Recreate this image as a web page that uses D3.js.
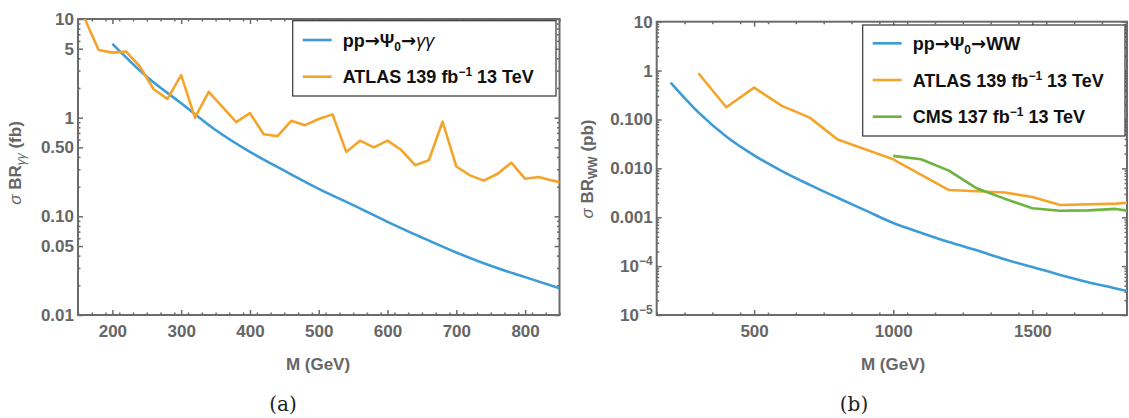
<!DOCTYPE html>
<html>
<head>
<meta charset="utf-8">
<script src="https://cdn.jsdelivr.net/npm/d3@7"></script>
<style>
  body { margin: 0; background: #fff; }
  svg { display: block; font-family: "Liberation Sans", Arial, sans-serif; }
  .tick text { fill: #666; font-weight: bold; font-size: 17px; font-family: "Liberation Sans", Arial, sans-serif; }
  .tick line { stroke: #6b6b6b; }
  .domain { display: none; }
</style>
</head>
<body>
<svg id="chart" width="1129" height="418"></svg>
<script>
// ---- data ----
// (a) diphoton
var ggMass = [200, 250, 300, 350, 400, 450, 500, 550, 600, 650, 700, 750, 800, 850];
var ggSigma = [5.6, 2.6, 1.4, 0.75, 0.45, 0.29, 0.19, 0.13, 0.088, 0.061, 0.043, 0.0315, 0.0242, 0.0187];
var atlasGGMass = [160, 180, 200, 220, 240, 260, 280, 300, 320, 340, 360, 380, 400, 420, 440, 460,
  480, 500, 520, 540, 560, 580, 600, 620, 640, 660, 680, 700, 720, 740, 760, 780, 800, 820, 840, 860];
var atlasGGLimit = [10, 4.85, 4.56, 4.67, 3.3, 1.94, 1.55, 2.7, 1.0, 1.83, 1.29, 0.9, 1.11, 0.68, 0.65, 0.93,
  0.84, 0.97, 1.08, 0.45, 0.585, 0.5, 0.585, 0.47, 0.33, 0.37, 0.91, 0.32, 0.26, 0.23, 0.27, 0.35, 0.24, 0.25, 0.23, 0.215];
// (b) WW
var wwMass = [200, 300, 400, 500, 600, 700, 800, 900, 1000, 1100, 1200, 1300, 1400, 1500, 1600, 1700, 1800, 1850];
var wwSigma = [0.57, 0.14, 0.045, 0.0185, 0.0088, 0.0046, 0.0025, 0.00138, 0.00076, 0.00048, 0.00031,
  0.00021, 0.000138, 0.0000955, 0.000066, 0.000047, 0.000035, 0.00003];
var atlasWWMass = [300, 400, 500, 600, 700, 800, 1000, 1200, 1400, 1500, 1600, 1800, 1900];
var atlasWWLimit = [0.88, 0.178, 0.447, 0.19, 0.109, 0.039, 0.0153, 0.0036, 0.0032, 0.0026, 0.00178, 0.0019, 0.0021];
var cmsWWMass = [1000, 1100, 1200, 1300, 1400, 1500, 1600, 1700, 1800, 1900];
var cmsWWLimit = [0.018, 0.0153, 0.009, 0.0039, 0.0024, 0.00153, 0.00136, 0.00138, 0.00148, 0.0012];

// ticks
var ggXTicks = [200, 300, 400, 500, 600, 700, 800];
var ggYTicks = [0.01, 0.05, 0.1, 0.5, 1, 5, 10];
var ggYLabels = ["0.01", "0.05", "0.10", "0.50", "1", "5", "10"];
var wwXTicks = [500, 1000, 1500];
var wwYTicks = [1e-5, 1e-4, 1e-3, 1e-2, 1e-1, 1, 10];
var wwYLabels = ["10^-5", "10^-4", "0.001", "0.010", "0.100", "1", "10"];

var blue = "#3d9bd6", orange = "#f5a42b", green = "#6cb33f";
var frameColor = "#6b6b6b";

var svg = d3.select("#chart");

function logMinors(lo, hi, majors) {
  var out = [];
  for (var e = Math.floor(Math.log10(lo)); e < Math.ceil(Math.log10(hi)); e++) {
    for (var m = 1; m < 10; m++) {
      var v = +(m * Math.pow(10, e)).toPrecision(3);
      if (v >= lo && v <= hi && majors.indexOf(v) < 0) out.push(v);
    }
  }
  return out;
}

// rich text: parts with sub / sup shifts in pixels
function richText(t, parts, small) {
  var shift = 0;
  parts.forEach(function(part) {
    var target = part.sub ? 4 : part.sup ? -7 : 0;
    var ts = t.append("tspan").text(part.t).attr("dy", target - shift);
    shift = target;
    if (part.sub || part.sup) ts.attr("font-size", small);
    if (part.it) ts.attr("font-style", "italic").attr("font-weight", "normal");
    if (part.arrow) ts.attr("font-family", "'DejaVu Sans', sans-serif");
  });
}

function panel(p) {
  var g = svg.append("g");
  var x = d3.scaleLinear().domain(p.xDomain).range([p.x0, p.x1]);
  var y = d3.scaleLog().domain(p.yDomain).range([p.y1, p.y0]);

  var clipId = "clip" + p.id;
  svg.append("clipPath").attr("id", clipId).append("rect")
    .attr("x", p.x0).attr("y", p.y0).attr("width", p.x1 - p.x0).attr("height", p.y1 - p.y0);

  var xMinor = d3.range(p.xDomain[0], p.xDomain[1] + 1, p.xMinorStep).filter(function(v) {
    return p.xTicks.indexOf(v) < 0;
  });
  var yMinor = logMinors(p.yDomain[0], p.yDomain[1], p.yTicks);

  // bottom + top ticks
  g.append("g").attr("transform", "translate(0," + p.y1 + ")")
    .call(d3.axisBottom(x).tickValues(p.xTicks).tickSizeInner(-5).tickSizeOuter(0).tickPadding(10)
      .tickFormat(d3.format("d")));
  g.append("g").attr("transform", "translate(0," + p.y1 + ")")
    .call(d3.axisBottom(x).tickValues(xMinor).tickSizeInner(-2.5).tickSizeOuter(0).tickFormat(""));
  g.append("g").attr("transform", "translate(0," + p.y0 + ")")
    .call(d3.axisTop(x).tickValues(p.xTicks).tickSizeInner(-5).tickSizeOuter(0).tickFormat(""));
  g.append("g").attr("transform", "translate(0," + p.y0 + ")")
    .call(d3.axisTop(x).tickValues(xMinor).tickSizeInner(-2.5).tickSizeOuter(0).tickFormat(""));

  // left + right ticks
  var yAxis = g.append("g").attr("transform", "translate(" + p.x0 + ",0)")
    .call(d3.axisLeft(y).tickValues(p.yTicks).tickSizeInner(-5).tickSizeOuter(0).tickPadding(4)
      .tickFormat(function(d, i) { return p.yLabels[i]; }));
  g.append("g").attr("transform", "translate(" + p.x0 + ",0)")
    .call(d3.axisLeft(y).tickValues(yMinor).tickSizeInner(-2.5).tickSizeOuter(0).tickFormat(""));
  g.append("g").attr("transform", "translate(" + p.x1 + ",0)")
    .call(d3.axisRight(y).tickValues(p.yTicks).tickSizeInner(-5).tickSizeOuter(0).tickFormat(""));
  g.append("g").attr("transform", "translate(" + p.x1 + ",0)")
    .call(d3.axisRight(y).tickValues(yMinor).tickSizeInner(-2.5).tickSizeOuter(0).tickFormat(""));

  g.selectAll(".tick line").attr("stroke-width", 1.5);

  // power-of-ten labels
  yAxis.selectAll(".tick text").each(function() {
    var t = d3.select(this), s = t.text();
    if (s.indexOf("^") < 0) return;
    var parts = s.split("^");
    t.text(parts[0]);
    t.append("tspan").attr("dy", "-7").style("font-size", "12px")
      .text(parts[1].replace("-", "\u2212"));
  });

  // frame
  g.append("rect").attr("x", p.x0).attr("y", p.y0)
    .attr("width", p.x1 - p.x0).attr("height", p.y1 - p.y0)
    .attr("fill", "none").attr("stroke", frameColor).attr("stroke-width", 2);

  // curves: theory curves smooth, limits straight segments
  var curves = g.append("g").attr("clip-path", "url(#" + clipId + ")");
  p.series.forEach(function(s) {
    var line = d3.line().x(function(d) { return x(d[0]); }).y(function(d) { return y(d[1]); })
      .curve(s.smooth ? d3.curveMonotoneX : d3.curveLinear);
    curves.append("path").datum(d3.zip(s.m, s.v)).attr("d", line)
      .attr("fill", "none").attr("stroke", s.color).attr("stroke-width", 2.6)
      .attr("stroke-linejoin", "round");
  });

  // axis titles
  g.append("text").attr("x", p.xTitleX).attr("y", 370).attr("text-anchor", "middle")
    .attr("fill", "#666").attr("font-weight", "bold").attr("font-size", 17).text("M (GeV)");

  var yt = g.append("text").attr("transform", "translate(" + p.yTitleX + "," + p.yTitleY + ") rotate(-90)")
    .attr("text-anchor", "middle").attr("y", 6)
    .attr("fill", "#666").attr("font-weight", "bold").attr("font-size", 17);
  richText(yt, [
    { t: "\u03c3 ", it: true },
    { t: "BR" },
    { t: p.sub, sub: true, it: p.subItalic },
    { t: " " + p.unit }
  ], 12);

  // legend
  var lg = g.append("g");
  lg.append("rect").attr("x", p.legend[0]).attr("y", p.legend[1])
    .attr("width", p.legend[2] - p.legend[0]).attr("height", p.legend[3] - p.legend[1])
    .attr("fill", "#fff").attr("stroke", "#333").attr("stroke-width", 1.2);
  p.series.forEach(function(s, i) {
    var ry = p.legendRows[i];
    lg.append("line").attr("x1", p.legend[0] + 10).attr("x2", p.legend[0] + 39)
      .attr("y1", ry).attr("y2", ry).attr("stroke", s.color).attr("stroke-width", 2.6);
    var t = lg.append("text").attr("x", p.legend[0] + 50).attr("y", ry + 6.5)
      .attr("font-weight", "bold").attr("font-size", 18).attr("fill", "#111");
    richText(t, s.label, 12);
  });

  // caption
  svg.append("text").attr("x", p.captionX).attr("y", 411).attr("text-anchor", "middle")
    .attr("font-family", "'DejaVu Serif', 'Liberation Serif', serif").attr("font-size", 20)
    .attr("fill", "#222").text(p.caption);
}

panel({
  id: "a", x0: 78, x1: 559.5, y0: 19, y1: 315,
  xDomain: [150, 850], yDomain: [0.01, 10],
  xTicks: ggXTicks, xMinorStep: 20, yTicks: ggYTicks, yLabels: ggYLabels,
  xTitleX: 318, yTitleX: 15, yTitleY: 163, sub: "\u03b3\u03b3", subItalic: true, unit: "(fb)",
  legend: [292.7, 20.7, 556, 96], legendRows: [40, 76.7],
  caption: "(a)", captionX: 283,
  series: [
    { m: ggMass, v: ggSigma, color: blue, smooth: true,
      label: [{ t: "pp" }, { t: "\u2192", arrow: true }, { t: "\u03a8" }, { t: "0", sub: true },
        { t: "\u2192", arrow: true }, { t: "\u03b3\u03b3", it: true }] },
    { m: atlasGGMass, v: atlasGGLimit, color: orange,
      label: [{ t: "ATLAS 139 fb" }, { t: "\u22121", sup: true }, { t: " 13 TeV" }] }
  ]
});

panel({
  id: "b", x0: 656.7, x1: 1127, y0: 21.7, y1: 315,
  xDomain: [150, 1840], yDomain: [1e-5, 10],
  xTicks: wwXTicks, xMinorStep: 100, yTicks: wwYTicks, yLabels: wwYLabels,
  xTitleX: 893, yTitleX: 587, yTitleY: 169, sub: "WW", subItalic: false, unit: "(pb)",
  legend: [862.7, 25, 1125, 136], legendRows: [43.3, 80, 116.7],
  caption: "(b)", captionX: 854,
  series: [
    { m: wwMass, v: wwSigma, color: blue, smooth: true,
      label: [{ t: "pp" }, { t: "\u2192", arrow: true }, { t: "\u03a8" }, { t: "0", sub: true },
        { t: "\u2192", arrow: true }, { t: "WW" }] },
    { m: atlasWWMass, v: atlasWWLimit, color: orange,
      label: [{ t: "ATLAS 139 fb" }, { t: "\u22121", sup: true }, { t: " 13 TeV" }] },
    { m: cmsWWMass, v: cmsWWLimit, color: green,
      label: [{ t: "CMS 137 fb" }, { t: "\u22121", sup: true }, { t: " 13 TeV" }] }
  ]
});
</script>
</body>
</html>
